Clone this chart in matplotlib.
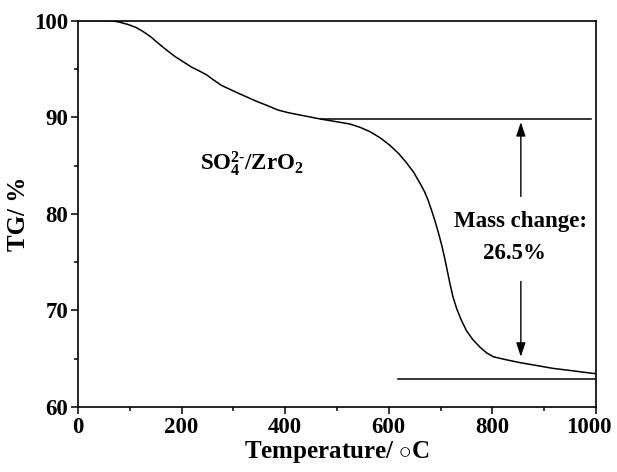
import numpy as np
import matplotlib
matplotlib.use("Agg")
import matplotlib.pyplot as plt
from matplotlib.ticker import MultipleLocator, FuncFormatter

plt.rcParams["font.family"] = ["Liberation Serif", "DejaVu Serif"]
plt.rcParams["font.weight"] = "bold"
plt.rcParams["mathtext.fontset"] = "custom"
plt.rcParams["mathtext.rm"] = "Liberation Serif:bold"
plt.rcParams["mathtext.bf"] = "Liberation Serif:bold"
plt.rcParams["mathtext.it"] = "Liberation Serif:bold"

# TG curve
temp = [0, 40, 64, 80, 97, 112, 125, 140, 154, 170, 187, 203, 219, 234, 248,
        262, 277, 293, 309, 328, 347, 366, 386, 404, 422, 446, 470, 498, 525,
        545, 564, 584, 602, 619, 634, 648, 660, 669, 676, 683, 689, 695, 702,
        708, 713, 718, 724, 731, 740, 750, 762, 776, 789, 802, 826, 853, 885,
        917, 955, 991, 1000]
tg = [100.0, 100.0, 100.0, 99.85, 99.6, 99.3, 98.9, 98.35, 97.7, 97.0, 96.3,
      95.75, 95.2, 94.8, 94.4, 93.85, 93.3, 92.9, 92.5, 92.05, 91.6, 91.2,
      90.75, 90.5, 90.3, 90.05, 89.8, 89.55, 89.3, 88.95, 88.5, 87.85, 87.1,
      86.25, 85.3, 84.3, 83.2, 82.3, 81.4, 80.3, 79.3, 78.2, 76.8, 75.4, 74.1,
      72.8, 71.4, 70.2, 69.0, 67.9, 67.0, 66.2, 65.6, 65.2, 64.9, 64.6, 64.3,
      64.0, 63.75, 63.5, 63.45]

# reference levels for the mass change
upper_level = 89.8
upper_span = [470, 990]
lower_level = 62.9
lower_span = [618, 1000]
arrow_x = 855
arrow_up = [81.8, 89.5]
arrow_down = [73.0, 65.2]

x_max = 1000

fig = plt.figure(figsize=(6.17, 4.72), dpi=100)
ax = fig.add_axes([0.1264, 0.1377, 0.8395, 0.8185])

ax.plot(temp, tg, color="black", linewidth=1.1)
ax.plot(upper_span, [upper_level, upper_level], color="black", linewidth=1.1)
ax.plot(lower_span, [lower_level, lower_level], color="black", linewidth=1.1)

ax.annotate("", xy=(arrow_x, arrow_up[1]), xytext=(arrow_x, arrow_up[0]),
            arrowprops=dict(arrowstyle="-|>,head_length=0.6,head_width=0.2",
                            color="black", lw=1.0,
                            mutation_scale=14, shrinkA=0, shrinkB=0))
ax.annotate("", xy=(arrow_x, arrow_down[1]), xytext=(arrow_x, arrow_down[0]),
            arrowprops=dict(arrowstyle="-|>,head_length=0.6,head_width=0.2",
                            color="black", lw=1.0,
                            mutation_scale=14, shrinkA=0, shrinkB=0))

ax.text(855, 79.2, "Mass change:", ha="center", va="center", fontsize=16.5,
        fontweight="bold")
ax.text(843, 75.9, "26.5%", ha="center", va="center", fontsize=16.5,
        fontweight="bold")
ax.text(335, 85.2, r"SO$_4^{2\text{-}}$/ZrO$_2$", ha="center", va="center",
        fontsize=16.5, fontweight="bold")

ax.set_xlim(0, x_max)
ax.set_ylim(60, 100)
ax.xaxis.set_major_locator(MultipleLocator(200))
ax.xaxis.set_minor_locator(MultipleLocator(100))
ax.yaxis.set_major_locator(MultipleLocator(10))
ax.yaxis.set_minor_locator(MultipleLocator(5))
# last x label is drawn separately so it stays inside the canvas
ax.xaxis.set_major_formatter(FuncFormatter(lambda v, p: "" if v >= x_max else f"{v:.0f}"))
ax.tick_params(which="both", direction="out", width=1.1, labelsize=16.5)
ax.tick_params(which="major", length=5, pad=2)
ax.tick_params(which="minor", length=3)
for lab in ax.get_xticklabels() + ax.get_yticklabels():
    lab.set_fontweight("bold")
for sp in ax.spines.values():
    sp.set_linewidth(1.2)

ax.annotate(f"{x_max}", xy=(x_max, 0), xycoords=("data", "axes fraction"),
            xytext=(-5, -7), textcoords="offset points", ha="center", va="top",
            fontsize=16.5, fontweight="bold")

ax.set_xlabel(r"Temperature/ $\circ$C", fontsize=18, fontweight="bold", labelpad=1)
ax.set_ylabel("TG/ %", fontsize=18, fontweight="bold", labelpad=3)

fig.savefig("out.png", dpi=100)
